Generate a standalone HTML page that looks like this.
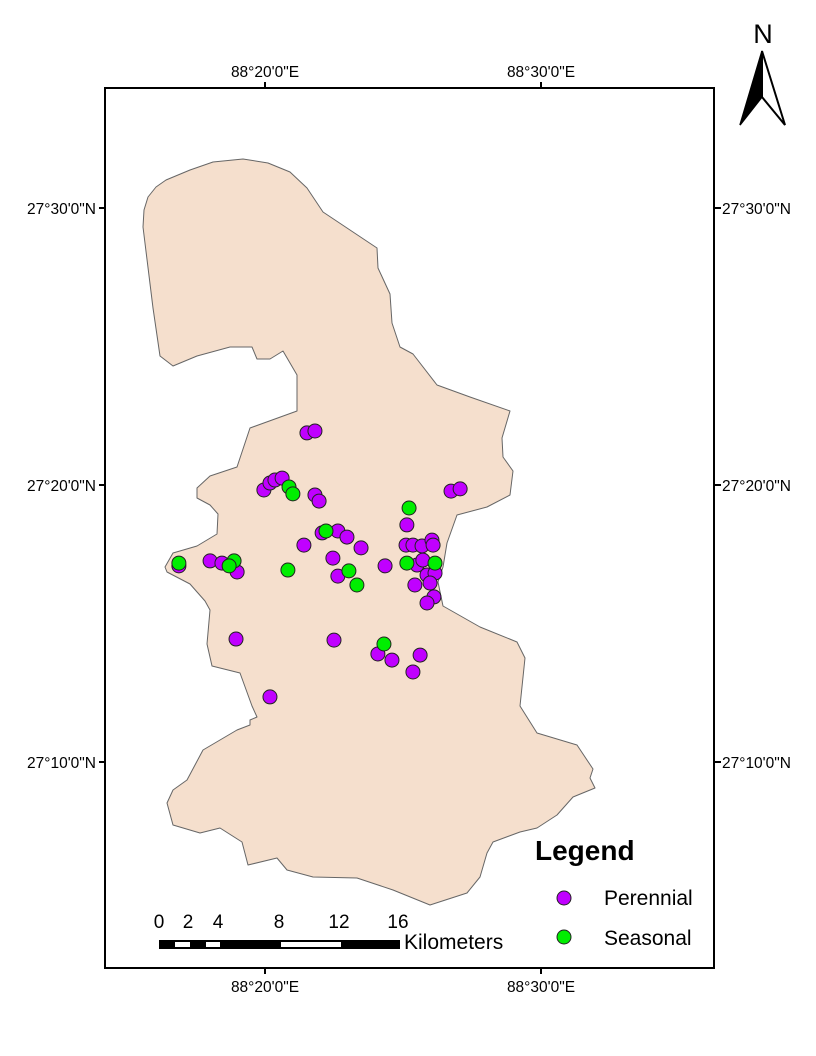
<!DOCTYPE html>
<html><head><meta charset="utf-8"><style>
html,body{margin:0;padding:0;background:#fff;}
svg{display:block;font-family:"Liberation Sans",Arial,sans-serif;}
</style></head><body>
<svg id="map" width="816" height="1056" viewBox="0 0 816 1056" xmlns="http://www.w3.org/2000/svg">
<rect width="816" height="1056" fill="#fff"/>
<g id="area"></g>
<g id="pts"></g>
<rect x="105" y="88" width="609" height="880" fill="none" stroke="#000" stroke-width="2"/>
<g id="ticks"></g>
<g>
<text x="763" y="43" font-size="27" text-anchor="middle">N</text>
<polygon points="762,51 740,125 762,97" fill="#000" stroke="#000" stroke-width="1.5"/>
<polygon points="762,51 785,125 762,97" fill="#fff" stroke="#000" stroke-width="2"/>
</g>
<g font-size="19">
<rect x="159" y="940" width="241" height="9" fill="#000"/>
<rect x="175" y="942" width="15" height="5" fill="#fff"/>
<rect x="206" y="942" width="14" height="5" fill="#fff"/>
<rect x="281" y="942" width="60" height="5" fill="#fff"/>
<text x="159" y="928" text-anchor="middle">0</text>
<text x="188" y="928" text-anchor="middle">2</text>
<text x="218" y="928" text-anchor="middle">4</text>
<text x="279" y="928" text-anchor="middle">8</text>
<text x="339" y="928" text-anchor="middle">12</text>
<text x="398" y="928" text-anchor="middle">16</text>
<text x="404" y="949" font-size="21">Kilometers</text>
</g>
<g>
<text x="535" y="860" font-size="28" font-weight="bold">Legend</text>
<circle cx="564" cy="898" r="7" fill="#c000ff" stroke="#222" stroke-width="1"/>
<text x="604" y="905" font-size="21">Perennial</text>
<circle cx="564" cy="937" r="7" fill="#00ee00" stroke="#222" stroke-width="1"/>
<text x="604" y="945" font-size="21">Seasonal</text>
</g>
</svg>
<script>
// longitude minutes past 88°, latitude minutes past 27°
const perLon=[21.52,21.81,19.96,20.18,20.36,20.62,21.81,21.96,26.74,27.07,25.14,22.07,22.64,22.97,23.48,21.41,22.46,22.64,24.35,25.11,25.36,25.69,26.05,26.09,25.51,25.72,25.87,26.16,25.98,25.43,26.12,25.87,18.01,18.44,18.99,16.88,18.95,22.50,24.09,24.60,25.62,25.36,20.18];
const perLat=[21.88,21.95,19.82,20.07,20.18,20.25,19.64,19.42,19.78,19.86,18.56,18.27,18.34,18.12,17.73,17.83,17.36,16.71,17.08,17.83,17.83,17.80,18.01,17.83,17.11,17.29,16.75,16.82,16.46,16.39,15.96,15.74,17.26,17.18,16.86,17.08,14.44,14.40,13.90,13.68,13.86,13.25,12.35];
const seaLon=[20.87,21.01,25.22,22.21,16.88,18.88,18.70,20.83,23.04,23.33,25.14,26.16,24.31];
const seaLat=[19.93,19.68,19.17,18.34,17.18,17.26,17.08,16.93,16.90,16.39,17.18,17.18,14.26];
const lonTicks=[20,30];
const latTicks=[30,20,10];
const lonLabels=["88°20'0\"E","88°30'0\"E"];
const latLabels=["27°30'0\"N","27°20'0\"N","27°10'0\"N"];

const X=m=>265+(m-20)*27.6;
const Y=m=>485-(m-20)*27.7;
const NS='http://www.w3.org/2000/svg';
function mk(t,a,p){const e=document.createElementNS(NS,t);for(const k in a)e.setAttribute(k,a[k]);p.appendChild(e);return e;}

const outline=[[143,227],[144,210],[148,197],[156,187],[166,180],[190,170],[213,162],[243,159],[268,163],[290,172],[307,188],[323,212],[377,248],[378,268],[390,294],[392,323],[400,347],[413,354],[437,385],[470,397],[510,411],[502,438],[503,457],[513,471],[510,495],[487,507],[457,515],[447,543],[443,567],[438,582],[443,606],[480,627],[517,642],[525,658],[520,706],[537,733],[577,745],[593,769],[590,778],[595,788],[573,797],[557,815],[537,828],[520,832],[493,842],[487,853],[480,877],[467,893],[430,905],[393,890],[357,878],[313,877],[287,870],[277,858],[248,865],[242,842],[220,828],[200,833],[173,825],[167,803],[173,790],[187,780],[203,750],[237,730],[250,725],[250,720],[257,717],[252,706],[240,673],[212,666],[207,644],[210,610],[205,601],[190,584],[167,572],[165,567],[173,553],[197,546],[217,534],[218,514],[210,505],[197,498],[197,488],[210,476],[237,467],[250,428],[297,411],[297,375],[283,351],[270,359],[257,359],[252,347],[230,347],[197,356],[173,366],[160,356],[153,308]];
const area=document.getElementById('area');
const poly=mk('polygon',{points:outline.map(p=>p.join(',')).join(' '),fill:'#f5dfcd',stroke:'#666','stroke-width':1,'stroke-linejoin':'round'},area);



const pts=document.getElementById('pts');
perLon.forEach((v,i)=>{
  const c=mk('circle',{cx:X(v),cy:Y(perLat[i]),r:7,fill:'#c000ff',stroke:'#222','stroke-width':1},pts);
  
  
});
seaLon.forEach((v,i)=>{
  const c=mk('circle',{cx:X(v),cy:Y(seaLat[i]),r:7,fill:'#00ee00',stroke:'#222','stroke-width':1},pts);
  
  
});

const tk=document.getElementById('ticks');
lonTicks.forEach((m,i)=>{
  const x=X(m);
  [[82,88,77],[968,974,992]].forEach(([a,b,ty])=>{
    mk('line',{x1:x,x2:x,y1:a,y2:b,stroke:'#000','stroke-width':2},tk);
    const t=mk('text',{x:x,y:ty,'font-size':15.5,'text-anchor':'middle'},tk);
    t.textContent=lonLabels[i];
    
    
  });
});
latTicks.forEach((m,i)=>{
  const y=Y(m);
  mk('line',{x1:99,x2:105,y1:y,y2:y,stroke:'#000','stroke-width':2},tk);
  mk('line',{x1:714,x2:721,y1:y,y2:y,stroke:'#000','stroke-width':2},tk);
  const t1=mk('text',{x:96,y:y+6,'font-size':15.5,'text-anchor':'end'},tk);
  t1.textContent=latLabels[i];
  
  
  const t2=mk('text',{x:722,y:y+6,'font-size':15.5},tk);
  t2.textContent=latLabels[i];
  
  
});
</script>
</body></html>
